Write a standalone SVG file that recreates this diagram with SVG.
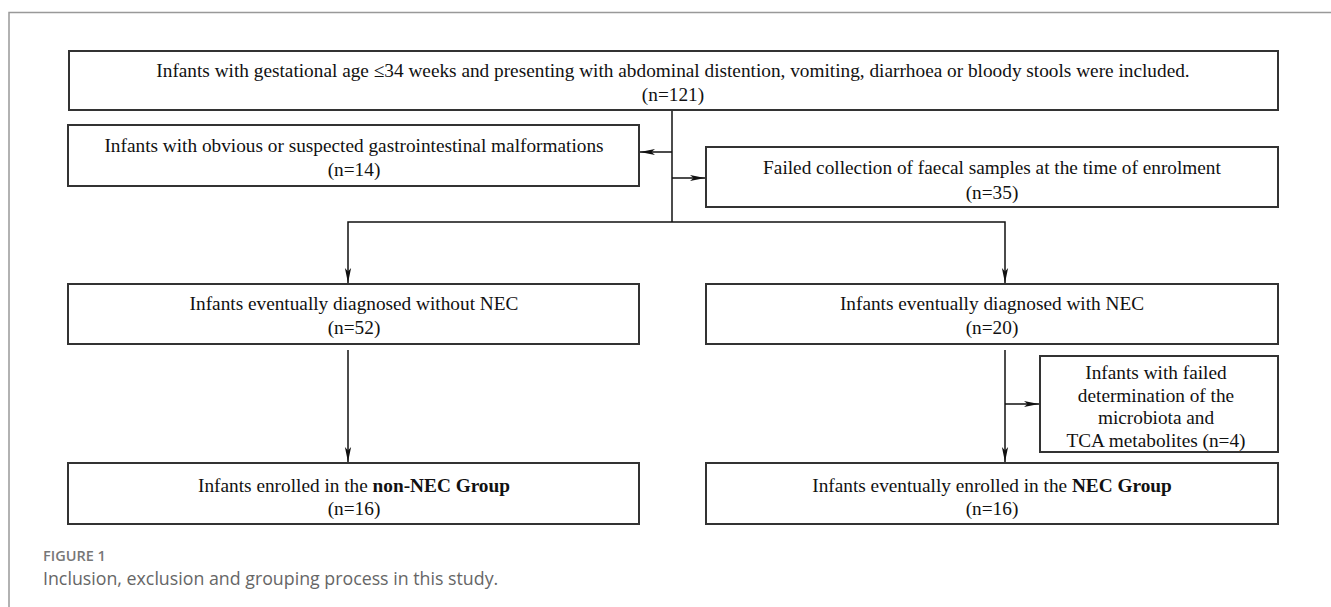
<svg xmlns="http://www.w3.org/2000/svg" width="1331" height="607" viewBox="0 0 1331 607">
<style>
.box{fill:#fff;stroke:#333;stroke-width:2}
.t{font-family:"Liberation Serif","Times New Roman",serif;font-size:19.3px;fill:#111;text-anchor:middle}
.b{font-weight:bold}
.c{fill:none;stroke:#111;stroke-width:1.5}
.frame{fill:none;stroke:#999;stroke-width:1.5}
.cap1{font-family:"Open Sans","Noto Sans",sans-serif;font-size:14.5px;font-weight:600;fill:#777}
.cap2{font-family:"Open Sans","Noto Sans",sans-serif;font-size:17.8px;fill:#666}
</style>
<defs>
<marker id="ah" viewBox="0 0 15 8" refX="15" refY="4" markerWidth="15" markerHeight="8" markerUnits="userSpaceOnUse" orient="auto">
<path d="M0,0.9 L15,4 L0,7.1 L3.5,4 Z" fill="#111"/>
</marker>
</defs>
<rect width="1331" height="607" fill="#fff"/>
<path class="frame" d="M9,607 V12.5 H1331"/>

<g id="connectors">
<path class="c" d="M672,110 V222"/>
<path class="c" d="M672,152 H640" marker-end="url(#ah)"/>
<path class="c" d="M672,178 H705" marker-end="url(#ah)"/>
<path class="c" d="M672,222 H1005 V283" marker-end="url(#ah)"/>
<path class="c" d="M672,222 H348 V283" marker-end="url(#ah)"/>
<path class="c" d="M348,350 V462" marker-end="url(#ah)"/>
<path class="c" d="M1005,350 V462" marker-end="url(#ah)"/>
<path class="c" d="M1005,404 H1039" marker-end="url(#ah)"/>
</g>

<g id="n1">
<rect class="box" x="69" y="51" width="1209" height="59"/>
<text class="t" x="673" y="77">Infants with gestational age ≤34 weeks and presenting with abdominal distention, vomiting, diarrhoea or bloody stools were included.</text>
<text class="t" x="673" y="101">(n=121)</text>
</g>
<g id="n2">
<rect class="box" x="68" y="125" width="571" height="61"/>
<text class="t" x="354" y="152">Infants with obvious or suspected gastrointestinal malformations</text>
<text class="t" x="354" y="176">(n=14)</text>
</g>
<g id="n3">
<rect class="box" x="706" y="147" width="572" height="60"/>
<text class="t" x="992" y="174">Failed collection of faecal samples at the time of enrolment</text>
<text class="t" x="992" y="199">(n=35)</text>
</g>
<g id="n4">
<rect class="box" x="68" y="284" width="571" height="60"/>
<text class="t" x="354" y="310">Infants eventually diagnosed without NEC</text>
<text class="t" x="354" y="334">(n=52)</text>
</g>
<g id="n5">
<rect class="box" x="706" y="284" width="572" height="60"/>
<text class="t" x="992" y="310">Infants eventually diagnosed with NEC</text>
<text class="t" x="992" y="334">(n=20)</text>
</g>
<g id="n6">
<rect class="box" x="1040" y="356" width="238" height="96"/>
<text class="t" x="1156" y="379">Infants with failed</text>
<text class="t" x="1156" y="402">determination of the</text>
<text class="t" x="1156" y="424">microbiota and</text>
<text class="t" x="1156" y="447">TCA metabolites (n=4)</text>
</g>
<g id="n7">
<rect class="box" x="68" y="463" width="571" height="61"/>
<text class="t" x="354" y="492">Infants enrolled in the <tspan class="b">non-NEC Group</tspan></text>
<text class="t" x="354" y="515">(n=16)</text>
</g>
<g id="n8">
<rect class="box" x="706" y="463" width="572" height="61"/>
<text class="t" x="992" y="492">Infants eventually enrolled in the <tspan class="b">NEC Group</tspan></text>
<text class="t" x="992" y="515">(n=16)</text>
</g>

<text class="cap1" x="43" y="561">FIGURE 1</text>
<text class="cap2" x="43" y="585">Inclusion, exclusion and grouping process in this study.</text>
</svg>
